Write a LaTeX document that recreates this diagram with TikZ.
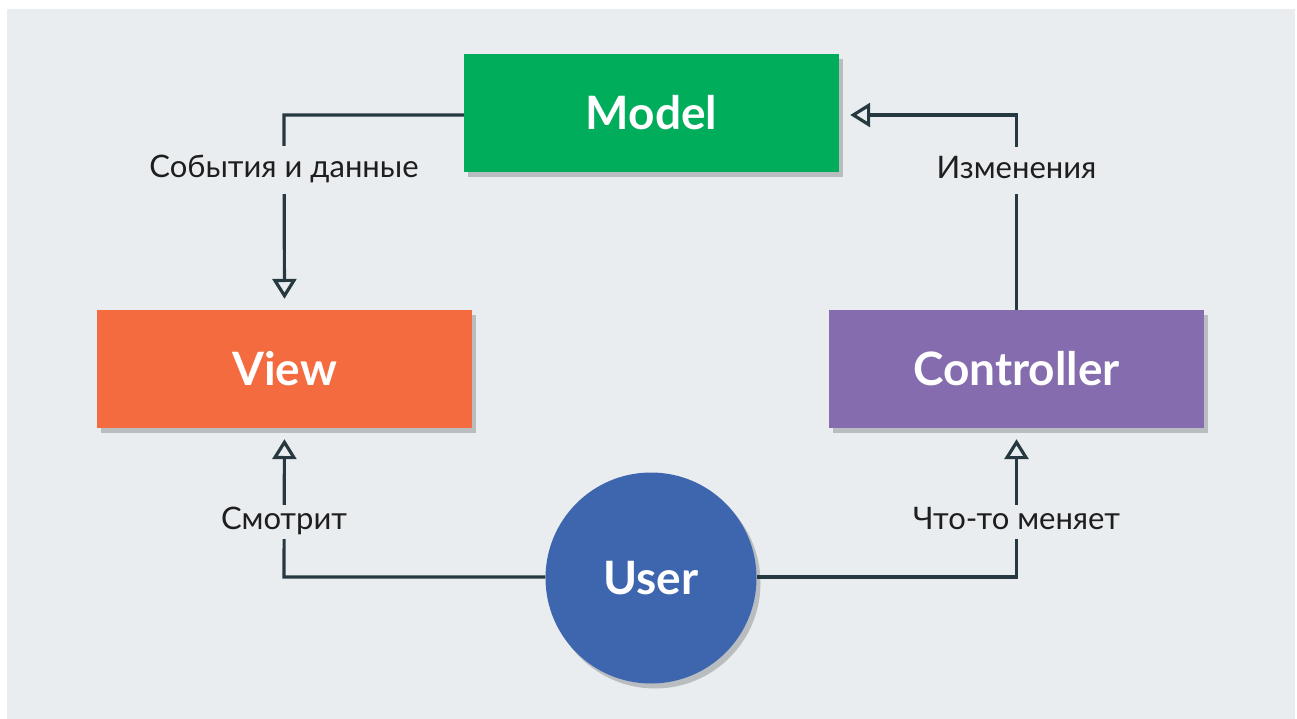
\documentclass[tikz,border=0pt]{standalone}
\usepackage{fontspec}
\setmainfont{Lato}
\usetikzlibrary{arrows.meta,shadows}
\definecolor{bg}{HTML}{E9EDF0}
\definecolor{cmodel}{HTML}{00AD5B}
\definecolor{cview}{HTML}{F46B40}
\definecolor{cctrl}{HTML}{846CAE}
\definecolor{cuser}{HTML}{3D66AF}
\definecolor{cline}{HTML}{263840}
\definecolor{ctext}{HTML}{1E1E1E}
\tikzset{
  boxshadow/.style={drop shadow={shadow xshift=4pt, shadow yshift=-5pt, opacity=0.2, fill=black}},
  mvcbox/.style={rectangle, minimum width=375pt, minimum height=118pt, inner sep=0pt,
    text=white, font=\bfseries\fontsize{46}{50}\selectfont, boxshadow},
  usercircle/.style={circle, minimum size=211pt, inner sep=0pt, fill=cuser,
    text=white, font=\bfseries\fontsize{46}{50}\selectfont, boxshadow},
  conn/.style={draw=cline, line width=3.2pt},
  arr/.style={conn, -{Triangle[open, width=24pt, length=20pt, line width=3.2pt]}, shorten >=11pt},
  lbl/.style={fill=bg, text=ctext, font=\fontsize{31}{35}\selectfont, text height=21pt, text depth=6pt, inner xsep=2pt}
}
\begin{document}
\begin{tikzpicture}[x=1pt, y=-1pt]
\fill[white] (0,0) rectangle (1297,719);
\fill[bg] (7,9) rectangle (1295,719);
\useasboundingbox (0,0) rectangle (1297,719);

\node[mvcbox, fill=cmodel] (model) at (651.5,113) {Model};
\node[mvcbox, fill=cview] (view) at (284.5,369) {View};
\node[mvcbox, fill=cctrl] (ctrl) at (1016.5,369) {Controller};
\node[usercircle] (user) at (651,578) {User};

\coordinate (tl) at (284,115);
\coordinate (tr) at (1016.5,115);
\coordinate (bl) at (284,577);
\coordinate (br) at (1016.5,577);

\draw[arr] (model.west |- tl) -- (tl) -- (view.north);
\draw[arr] (ctrl.north) -- (tr) -- (model.east |- tr);
\draw[arr] (user.west |- bl) -- (bl) -- (view.south);
\draw[arr] (user.east |- br) -- (br) -- (ctrl.south);

\node[lbl, inner ysep=10.5pt] (l1) at (284,170) {События и данные};
\node[lbl, inner ysep=10pt] (l2) at (1016.5,171) {Изменения};
\node[lbl, inner ysep=3.5pt] (l3) at (284,522) {Смотрит};
\node[lbl, inner ysep=3.5pt] (l4) at (1016.5,522) {Что-то меняет};
\end{tikzpicture}
\end{document}
